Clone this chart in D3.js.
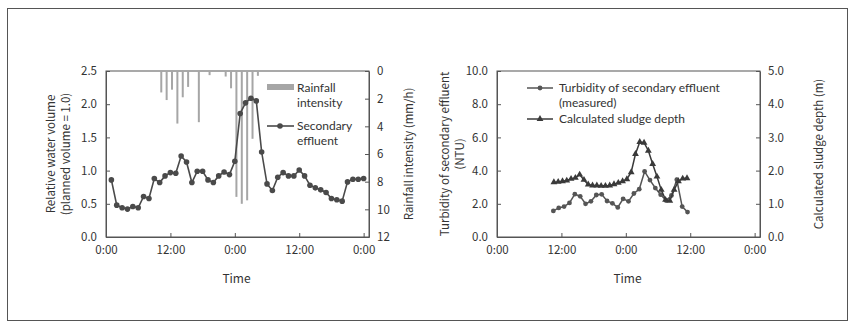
<!DOCTYPE html>
<html>
<head>
<meta charset="utf-8">
<script src="https://cdn.jsdelivr.net/npm/d3@7"></script>
<style>
  body { margin: 0; background: #fff; }
  text { font-family: "Noto Sans CJK JP", "Noto Sans", sans-serif; fill: #333; }
  text.legend { font-family: Lato, "Noto Sans", sans-serif; }
</style>
</head>
<body>
<svg id="chart" width="855" height="329"></svg>
<script>
// ---- data ----
// left chart: hourly relative volume of secondary effluent
const effluentHour = [1, 2, 3, 4, 5, 6, 7, 8, 9, 10, 11, 12, 13, 14, 15, 16, 17, 18, 19, 20, 21, 22, 23, 24,
  25, 26, 27, 28, 29, 30, 31, 32, 33, 34, 35, 36, 37, 38, 39, 40, 41, 42, 43, 44, 45, 46, 47, 48];
const effluentVolume = [0.86, 0.48, 0.44, 0.42, 0.46, 0.44, 0.61, 0.58, 0.88, 0.82, 0.92, 0.97, 0.96, 1.22, 1.13, 0.82,
  0.99, 0.99, 0.86, 0.82, 0.92, 0.98, 0.94, 1.14, 1.86, 2.02, 2.09, 2.05, 1.28, 0.80, 0.70, 0.90,
  0.97, 0.92, 0.92, 1.01, 0.92, 0.78, 0.74, 0.71, 0.67, 0.58, 0.56, 0.54, 0.83, 0.87, 0.87, 0.88];

// rainfall intensity (mm/h), hanging from the top
const rainHour = [10, 11, 12, 13, 14, 15, 17, 19, 22, 23, 24, 25, 26, 27, 28];
const rainIntensity = [1.55, 2.1, 1.35, 3.8, 1.9, 1.15, 3.7, 0.3, 0.4, 1.25, 9.1, 9.6, 9.35, 4.9, 0.35];

// right chart: measured turbidity (NTU)
const turbHour = [10.5, 11.5, 12.5, 13.5, 14.5, 15.5, 16.5, 17.5, 18.5, 19.5, 20.5, 21.5, 22.5,
  23.5, 24.5, 25.5, 26.5, 27.5, 28.5, 29.5, 30.5, 31.5, 32.5, 33.5, 34.5, 35.5];
const turbidity = [1.57, 1.75, 1.83, 2.05, 2.58, 2.45, 2.0, 2.15, 2.53, 2.57, 2.17, 2.03, 1.78,
  2.3, 2.15, 2.62, 2.88, 3.95, 3.43, 2.95, 2.55, 2.2, 2.5, 3.45, 1.83, 1.5];

// right chart: calculated sludge depth (m)
const sludgeHour = [10.6, 11.4, 12.2, 13.0, 13.8, 14.6, 15.4, 16.2, 17.0, 17.8, 18.6, 19.4, 20.2, 21.0, 21.8, 22.6,
  23.4, 24.2, 25.0, 25.8, 26.6, 27.4, 28.2, 29.0, 29.8, 30.6, 31.4, 32.2, 33.0, 33.8, 34.6, 35.4];
const sludgeDepth = [1.65, 1.66, 1.68, 1.7, 1.75, 1.78, 1.88, 1.72, 1.58, 1.55, 1.55, 1.54, 1.54, 1.55, 1.59, 1.63,
  1.68, 1.74, 1.95, 2.5, 2.86, 2.84, 2.6, 2.2, 1.82, 1.42, 1.12, 1.09, 1.42, 1.68, 1.76, 1.77];

const timeTicks = [0, 12, 24, 36, 48];
const timeLabels = ['0:00', '12:00', '0:00', '12:00', '0:00'];

// ---- drawing ----
const svg = d3.select('#chart');
const ink = '#4a4a4a';
const axisColor = '#555';

// outer frame
svg.append('rect')
  .attr('x', 7.5).attr('y', 8.5)
  .attr('width', 840).attr('height', 312)
  .attr('fill', 'none')
  .attr('stroke', '#555')
  .attr('stroke-width', 1);

function styleAxis(g) {
  g.selectAll('path, line').attr('stroke', axisColor);
  g.selectAll('text').style('font-size', '11.5px').attr('fill', '#333');
}

function drawPanel(left, opts) {
  const top = 71, bottom = 237, width = 263;
  const x = d3.scaleLinear().domain([0, 49]).range([left, left + width]);
  const y = d3.scaleLinear().domain(opts.yDomain).range([bottom, top]);
  const y2 = d3.scaleLinear().domain(opts.y2Domain).range(opts.y2Reversed ? [top, bottom] : [bottom, top]);

  // plot box
  svg.append('rect')
    .attr('x', left).attr('y', top)
    .attr('width', width).attr('height', bottom - top)
    .attr('fill', 'none').attr('stroke', axisColor);

  svg.append('g')
    .attr('transform', `translate(0,${bottom})`)
    .call(d3.axisBottom(x).tickValues(timeTicks).tickFormat((d, i) => timeLabels[i])
      .tickSizeInner(-4).tickSizeOuter(0).tickPadding(9))
    .call(styleAxis);

  svg.append('g')
    .attr('transform', `translate(${left},0)`)
    .call(d3.axisLeft(y).tickValues(opts.yTicks).tickFormat(d3.format('.1f'))
      .tickSizeInner(-4).tickSizeOuter(0).tickPadding(9))
    .call(styleAxis);

  svg.append('g')
    .attr('transform', `translate(${left + width},0)`)
    .call(d3.axisRight(y2).tickValues(opts.y2Ticks).tickFormat(opts.y2Format)
      .tickSizeInner(-4).tickSizeOuter(0).tickPadding(8))
    .call(styleAxis);

  svg.append('text')
    .attr('x', left + width / 2 - 1).attr('y', 283)
    .attr('text-anchor', 'middle')
    .style('font-size', '12px')
    .text('Time');

  return { x, y, y2, top, bottom };
}

function rotatedTitle(cx, cy, str) {
  svg.append('text')
    .attr('transform', `translate(${cx},${cy}) rotate(-90)`)
    .attr('text-anchor', 'middle')
    .attr('dominant-baseline', 'central')
    .style('font-size', '11.5px')
    .text(str);
}

// legend label, one line per text element
function legendText(x, y, lines) {
  lines.forEach((s, i) => {
    svg.append('text').attr('class', 'legend')
      .attr('x', x).attr('y', y + i * 14.6)
      .style('font-size', '12px')
      .text(s);
  });
}

// ---- left panel ----
const L = drawPanel(106, {
  yDomain: [0, 2.5], yTicks: [0, 0.5, 1, 1.5, 2, 2.5],
  y2Domain: [0, 12], y2Ticks: [0, 2, 4, 6, 8, 10, 12], y2Reversed: true, y2Format: d3.format('d')
});

svg.append('g').selectAll('rect')
  .data(rainHour)
  .join('rect')
  .attr('x', (d) => L.x(d) + 0.6)
  .attr('y', L.top + 0.5)
  .attr('width', 2)
  .attr('height', (d, i) => L.y2(rainIntensity[i]) - L.top - 0.5)
  .attr('fill', '#a6a6a6');

const effluentLine = d3.line()
  .x((d) => L.x(d))
  .y((d, i) => L.y(effluentVolume[i]));

svg.append('path')
  .attr('d', effluentLine(effluentHour))
  .attr('fill', 'none').attr('stroke', ink).attr('stroke-width', 1.6);

svg.append('g').selectAll('circle')
  .data(effluentHour)
  .join('circle')
  .attr('cx', (d) => L.x(d))
  .attr('cy', (d, i) => L.y(effluentVolume[i]))
  .attr('r', 2.8)
  .attr('fill', ink);

rotatedTitle(50, 154, 'Relative water volume');
rotatedTitle(65, 154, '(planned volume = 1.0)');
rotatedTitle(408, 154, 'Rainfall intensity (mm/h)');

// left legend
svg.append('rect').attr('x', 267).attr('y', 84).attr('width', 27).attr('height', 6).attr('fill', '#a6a6a6');
legendText(297, 92, ['Rainfall', 'intensity']);
svg.append('line').attr('x1', 267).attr('x2', 294).attr('y1', 126).attr('y2', 126)
  .attr('stroke', ink).attr('stroke-width', 1.6);
svg.append('circle').attr('cx', 280).attr('cy', 126).attr('r', 2.8).attr('fill', ink);
legendText(297, 130, ['Secondary', 'effluent']);

// ---- right panel ----
const R = drawPanel(497, {
  yDomain: [0, 10], yTicks: [0, 2, 4, 6, 8, 10],
  y2Domain: [0, 5], y2Ticks: [0, 1, 2, 3, 4, 5], y2Reversed: false, y2Format: d3.format('.1f')
});

const turbLine = d3.line()
  .x((d) => R.x(d))
  .y((d, i) => R.y(turbidity[i]));
svg.append('path')
  .attr('d', turbLine(turbHour))
  .attr('fill', 'none').attr('stroke', '#555').attr('stroke-width', 1.5);
svg.append('g').selectAll('circle')
  .data(turbHour)
  .join('circle')
  .attr('cx', (d) => R.x(d))
  .attr('cy', (d, i) => R.y(turbidity[i]))
  .attr('r', 2.4)
  .attr('fill', '#555');

const sludgeLine = d3.line()
  .x((d) => R.x(d))
  .y((d, i) => R.y2(sludgeDepth[i]));
svg.append('path')
  .attr('d', sludgeLine(sludgeHour))
  .attr('fill', 'none').attr('stroke', '#3a3a3a').attr('stroke-width', 1.5);
const tri = d3.symbol().type(d3.symbolTriangle).size(20);
svg.append('g').selectAll('path')
  .data(sludgeHour)
  .join('path')
  .attr('d', tri)
  .attr('transform', (d, i) => `translate(${R.x(d)},${R.y2(sludgeDepth[i])})`)
  .attr('fill', '#3a3a3a');

rotatedTitle(444, 154, 'Turbidity of secondary effluent');
rotatedTitle(459, 154, '(NTU)');
rotatedTitle(818, 154, 'Calculated sludge depth (m)');

// right legend
svg.append('line').attr('x1', 527).attr('x2', 553).attr('y1', 88).attr('y2', 88)
  .attr('stroke', '#555').attr('stroke-width', 1.5);
svg.append('circle').attr('cx', 540).attr('cy', 88).attr('r', 2.4).attr('fill', '#555');
legendText(559, 92, ['Turbidity of secondary effluent', '(measured)']);
svg.append('line').attr('x1', 527).attr('x2', 553).attr('y1', 119).attr('y2', 119)
  .attr('stroke', '#3a3a3a').attr('stroke-width', 1.5);
svg.append('path').attr('d', tri).attr('transform', 'translate(540,119)').attr('fill', '#3a3a3a');
legendText(559, 123, ['Calculated sludge depth']);
</script>
</body>
</html>
